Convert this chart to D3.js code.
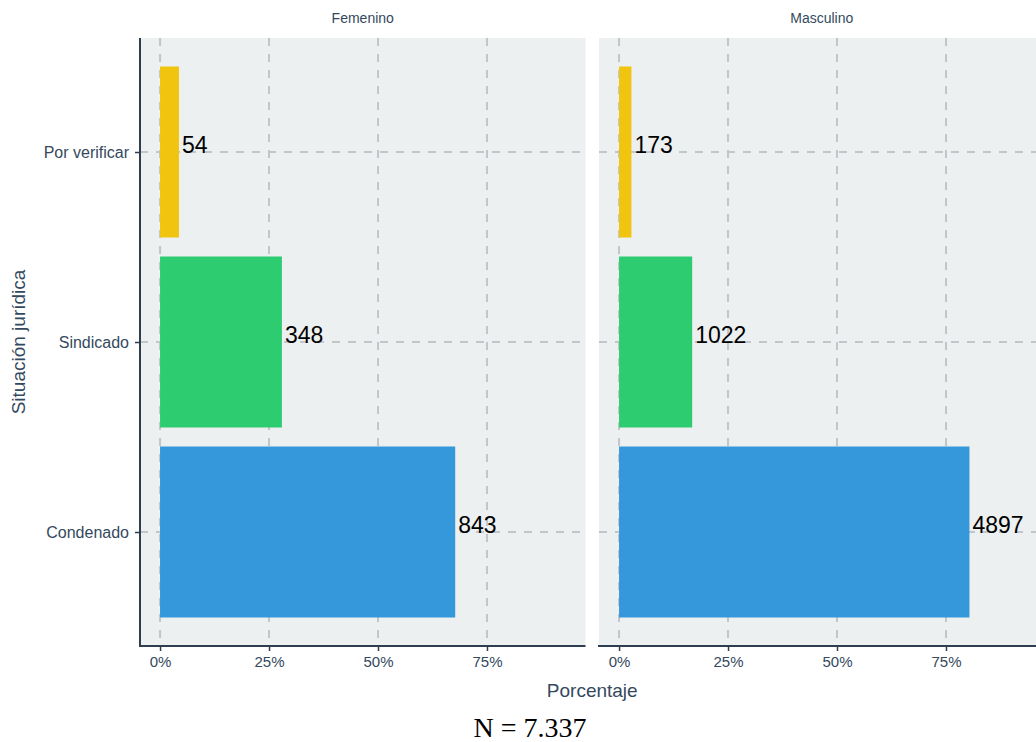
<!DOCTYPE html>
<html><head><meta charset="utf-8">
<script src="https://cdn.jsdelivr.net/npm/d3@7"></script>
<style>body{margin:0;background:#fff;}svg{display:block;font-family:"Liberation Sans",Arial,sans-serif;}</style>
</head><body>
<svg id="c" width="1036" height="742"></svg>
<script>
const categories = ["Por verificar", "Sindicado", "Condenado"];
const facets = ["Femenino", "Masculino"];
const femeninoCounts = [54, 348, 843];
const masculinoCounts = [173, 1022, 4897];
const barColors = ["#f1c40f", "#2ecc71", "#3498db"];
const xTicks = [0, 0.25, 0.5, 0.75];
const xTitle = "Porcentaje";
const yTitle = "Situación jurídica";
const caption = "N = 7.337";

(function () {
const svg = d3.select("#c");
const textCol = "#34495e", axisCol = "#2c3e50", gridCol = "#c2c6ca", panelBg = "#ecf0f1";
const pTop = 38, pBottom = 646;
const panels = [{x0: 140, x1: 585.5}, {x0: 599, x1: 1044.5}];
const countsByFacet = [femeninoCounts, masculinoCounts];

const y = d3.scalePoint().domain(categories).range([pTop, pBottom]).padding(0.6);
const barH = y.step() * 0.9;

panels.forEach((p, i) => {
  const counts = countsByFacet[i];
  const total = d3.sum(counts);
  const data = categories.map((c, j) => ({cat: c, n: counts[j], pct: counts[j] / total, color: barColors[j]}));
  const x = d3.scaleLinear().domain([-0.046, 0.976]).range([p.x0, p.x1]);
  const g = svg.append("g");
  g.append("rect").attr("x", p.x0).attr("y", pTop).attr("width", p.x1 - p.x0).attr("height", pBottom - pTop).attr("fill", panelBg);
  g.selectAll(".vg").data(xTicks).join("line")
    .attr("x1", d => x(d)).attr("x2", d => x(d)).attr("y1", pTop).attr("y2", pBottom)
    .attr("stroke", gridCol).attr("stroke-width", 2).attr("stroke-dasharray", "8,8");
  g.selectAll(".hg").data(categories).join("line")
    .attr("x1", p.x0).attr("x2", p.x1).attr("y1", d => y(d)).attr("y2", d => y(d))
    .attr("stroke", gridCol).attr("stroke-width", 2).attr("stroke-dasharray", "8,8");
  g.selectAll(".bar").data(data).join("rect")
    .attr("x", x(0)).attr("y", d => y(d.cat) - barH / 2)
    .attr("width", d => x(d.pct) - x(0)).attr("height", barH).attr("fill", d => d.color);
  g.selectAll(".lbl").data(data).join("text")
    .attr("x", d => x(d.pct) + 3).attr("y", d => y(d.cat) + 1)
    .attr("font-size", 23).attr("fill", "#000").text(d => d.n);
  const xa = d3.axisBottom(x).tickValues(xTicks).tickFormat(d3.format(".0%")).tickSize(5).tickPadding(5);
  const ax = g.append("g").attr("transform", `translate(0,${pBottom})`).call(xa);
  ax.select(".domain").remove();
  ax.selectAll(".tick line").attr("stroke", axisCol).attr("stroke-width", 1.5);
  ax.selectAll(".tick text").attr("fill", textCol).attr("font-size", 15).attr("font-family", "Liberation Sans, Arial, sans-serif");
  g.append("line").attr("x1", p.x0 - 1).attr("x2", p.x1).attr("y1", pBottom).attr("y2", pBottom).attr("stroke", axisCol).attr("stroke-width", 2);
  g.append("text").attr("x", (p.x0 + p.x1) / 2).attr("y", 23).attr("text-anchor", "middle")
    .attr("font-size", 14).attr("fill", textCol).text(facets[i]);
  if (i === 0) {
    const ya = d3.axisLeft(y).tickSize(5).tickPadding(6);
    const ay = g.append("g").attr("transform", `translate(${p.x0},0)`).call(ya);
    ay.select(".domain").remove();
    ay.selectAll(".tick line").attr("stroke", axisCol).attr("stroke-width", 1.5);
    ay.selectAll(".tick text").attr("fill", textCol).attr("font-size", 16).attr("font-family", "Liberation Sans, Arial, sans-serif");
    g.append("line").attr("x1", p.x0).attr("x2", p.x0).attr("y1", pTop).attr("y2", pBottom + 1).attr("stroke", axisCol).attr("stroke-width", 2);
  }
});

svg.append("text").attr("x", (panels[0].x0 + panels[1].x1) / 2).attr("y", 697).attr("text-anchor", "middle")
  .attr("font-size", 19).attr("fill", textCol).text(xTitle);
svg.append("text").attr("transform", `translate(25,${(pTop + pBottom) / 2}) rotate(-90)`).attr("text-anchor", "middle")
  .attr("font-size", 19).attr("fill", textCol).text(yTitle);
svg.append("text").attr("x", 530).attr("y", 737).attr("text-anchor", "middle")
  .attr("font-size", 28).attr("font-family", "Liberation Serif, DejaVu Serif, serif").attr("fill", "#000").text(caption);
})();
</script>
</body></html>
